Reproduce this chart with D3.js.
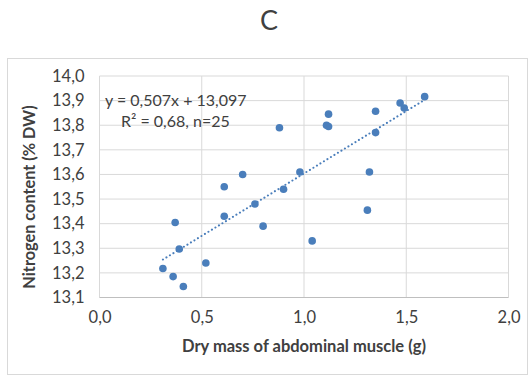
<!DOCTYPE html>
<html>
<head>
<meta charset="utf-8">
<script src="https://cdn.jsdelivr.net/npm/d3@7"></script>
<style>
  body { margin: 0; background: #fff; }
  text { font-family: Lato, "Open Sans", sans-serif; fill: #404040; }
</style>
</head>
<body>
<script>
// dry mass of abdominal muscle (g) vs nitrogen content (% DW)
var massValues = [0.31, 0.36, 0.41, 0.37, 0.39, 0.52, 0.61, 0.61, 0.70, 0.76, 0.80, 0.88, 0.90,
                  0.98, 1.04, 1.11, 1.12, 1.12, 1.31, 1.32, 1.35, 1.35, 1.47, 1.49, 1.59];
var nitrogenValues = [13.218, 13.185, 13.145, 13.405, 13.297, 13.24, 13.43, 13.55, 13.60, 13.48, 13.39, 13.79, 13.54,
                      13.61, 13.33, 13.80, 13.795, 13.845, 13.455, 13.61, 13.857, 13.77, 13.89, 13.87, 13.916];
var xTicks = [0, 0.5, 1.0, 1.5, 2.0];
var yTicks = [13.1, 13.2, 13.3, 13.4, 13.5, 13.6, 13.7, 13.8, 13.9, 14.0];
// trend line coefficients
var slope = 0.507, intercept = 13.097;

var width = 531, height = 376;
var blue = "#4a7ebb", grid = "#d9d9d9";
var comma = function(v) { return d3.format(".1f")(v).replace(".", ","); };

var svg = d3.select("body").append("svg")
    .attr("width", width)
    .attr("height", height);

// chart border
svg.append("rect")
    .attr("x", 7.5).attr("y", 58.5)
    .attr("width", 520).attr("height", 316)
    .attr("fill", "none").attr("stroke", grid);

svg.append("text")
    .attr("x", 269).attr("y", 30)
    .attr("text-anchor", "middle")
    .style("font-size", "27px")
    .text("C");

var x = d3.scaleLinear().domain([0, 2]).range([99.5, 508.5]);
var y = d3.scaleLinear().domain([13.1, 14.0]).range([297.5, 76]);

// grid
svg.append("g").selectAll("line")
    .data(xTicks).enter().append("line")
    .attr("x1", function(d) { return x(d); }).attr("x2", function(d) { return x(d); })
    .attr("y1", y(14.0)).attr("y2", y(13.1))
    .attr("stroke", grid);
svg.append("g").selectAll("line")
    .data(yTicks).enter().append("line")
    .attr("x1", x(0)).attr("x2", x(2))
    .attr("y1", function(d) { return y(d); }).attr("y2", function(d) { return y(d); })
    .attr("stroke", function(d) { return d == 13.1 ? "#bfbfbf" : grid; });

var xAxis = svg.append("g")
    .attr("transform", "translate(0," + y(13.1) + ")")
    .call(d3.axisBottom(x).tickValues(xTicks).tickFormat(comma).tickSize(0).tickPadding(14));
var yAxis = svg.append("g")
    .attr("transform", "translate(" + x(0) + ",0)")
    .call(d3.axisLeft(y).tickValues(yTicks).tickFormat(comma).tickSize(0).tickPadding(15));
svg.selectAll(".domain").remove();
svg.selectAll(".tick text")
    .style("font-family", "Lato, sans-serif")
    .style("font-size", "16.5px")
    .attr("fill", "#404040");

// trend line from min to max of data
var xr = d3.extent(massValues);
svg.append("line")
    .attr("x1", x(xr[0])).attr("y1", y(slope * xr[0] + intercept))
    .attr("x2", x(xr[1])).attr("y2", y(slope * xr[1] + intercept))
    .attr("stroke", blue)
    .attr("stroke-width", 2)
    .attr("stroke-linecap", "round")
    .attr("stroke-dasharray", "0.1 4");

svg.append("g").selectAll("circle")
    .data(massValues).enter().append("circle")
    .attr("cx", function(d) { return x(d); })
    .attr("cy", function(d, i) { return y(nitrogenValues[i]); })
    .attr("r", 3.8)
    .attr("fill", blue);

// equation label
svg.append("text")
    .attr("x", 105).attr("y", 106)
    .style("font-size", "16px")
    .text("y = 0,507x + 13,097");
svg.append("text")
    .attr("x", 121).attr("y", 127)
    .style("font-size", "16px")
    .text("R² = 0,68, n=25");

// axis titles
svg.append("text")
    .attr("x", 304).attr("y", 352)
    .attr("text-anchor", "middle")
    .style("font-size", "16.5px")
    .style("font-weight", "bold")
    .text("Dry mass of abdominal muscle (g)");
svg.append("text")
    .attr("transform", "translate(35,197) rotate(-90)")
    .attr("text-anchor", "middle")
    .style("font-size", "16.3px")
    .style("font-weight", "bold")
    .text("Nitrogen content (% DW)");
</script>
</body>
</html>
